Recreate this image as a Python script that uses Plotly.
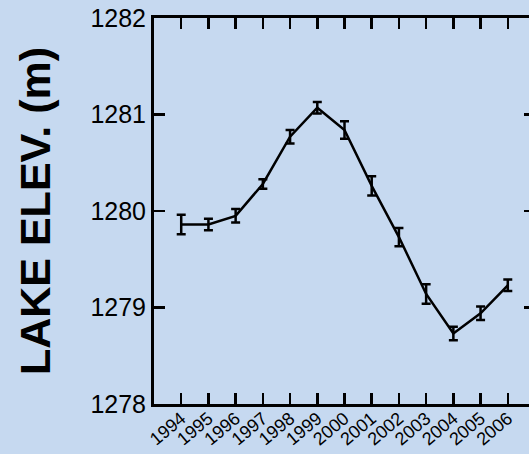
import plotly.graph_objects as go

years = list(range(1994, 2007))
elevation = [1279.86, 1279.86, 1279.95, 1280.28, 1280.77, 1281.07, 1280.84,
             1280.26, 1279.73, 1279.14, 1278.73, 1278.94, 1279.23]
err = [0.10, 0.06, 0.07, 0.05, 0.07, 0.06, 0.09, 0.10, 0.095, 0.10, 0.07, 0.07, 0.06]
ytick_vals = [1278, 1279, 1280, 1281, 1282]

bg = "#c6d9f0"
font_family = "Comic Sans MS, Liberation Sans, Arial, sans-serif"

fig = go.Figure()

fig.add_trace(
    go.Scatter(
        x=years,
        y=elevation,
        mode="lines",
        line=dict(color="black", width=2.5),
        error_y=dict(type="data", array=err, visible=True,
                     color="black", thickness=2.5, width=4.5),
        showlegend=False,
        hoverinfo="skip",
    )
)

# the figure is a little wider than the window: right spine falls off the page
fig.update_layout(
    width=541,
    height=454,
    paper_bgcolor=bg,
    plot_bgcolor=bg,
    margin=dict(l=154, r=3, t=18, b=50),
    font=dict(family=font_family, color="black"),
    xaxis=dict(
        range=[1993, 2007],
        tickvals=years,
        ticktext=[str(y) for y in years],
        tickangle=-40,
        tickfont=dict(size=18),
        ticklabelstandoff=-6,
        ticks="inside",
        ticklen=11,
        tickwidth=2.5,
        tickcolor="black",
        showline=True,
        linecolor="black",
        linewidth=3,
        mirror="ticks",
        showgrid=False,
        zeroline=False,
    ),
    yaxis=dict(
        range=[1278, 1282],
        tickvals=ytick_vals,
        tickfont=dict(size=25),
        ticks="inside",
        ticklen=11,
        tickwidth=2.5,
        tickcolor="black",
        showline=True,
        linecolor="black",
        linewidth=3,
        mirror="ticks",
        showgrid=False,
        zeroline=False,
        title=dict(text="<b>LAKE ELEV. (m)</b>", font=dict(size=43), standoff=27),
    ),
)

page_css = (
    "document.body.style.margin='0';"
    "document.body.style.overflow='hidden';"
    "document.documentElement.style.overflow='hidden';"
)
fig.write_html("out.html", post_script=page_css,
               config={"displayModeBar": False, "staticPlot": True})
